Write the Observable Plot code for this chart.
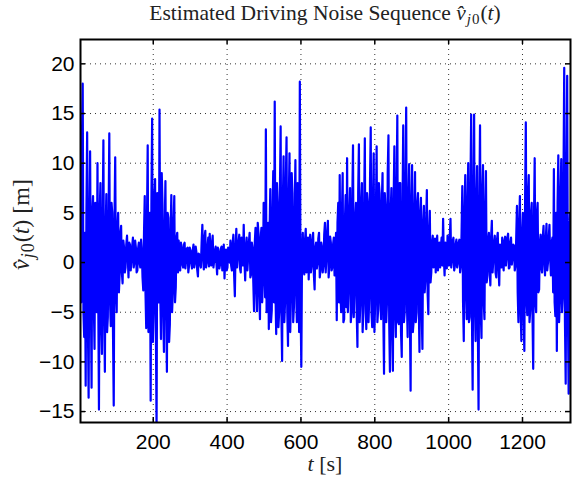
<!DOCTYPE html>
<html><head><meta charset="utf-8">
<script src="https://cdn.jsdelivr.net/npm/d3@7"></script>
<script src="https://cdn.jsdelivr.net/npm/@observablehq/plot@0.6"></script>
<style>body{margin:0;background:#fff}</style>
</head><body><div id="chart"></div>
<script>
// Estimated driving noise.
// noise: samples at t = 1, 5, 9, ... s ; noiseMid: samples at t = 3, 7, 11, ... s
const firstT = 1;
const sampleStep = 4;
const noise = [
22.3, -4, 18, -7.5, -12.4, 13.1, -13.6, 11.2, -12.6, 6.7, -8.7, 4.5, 10, -14.8, 8, -9.2, 12.3, -11, 6.9, -5.5,
13, -6.4, 5, -14.4, 10.6, -5, 5, -1.2, 3.7, -2.1,
1.5, -0.5, 2.7, -1.5, 1.8, 0.2, 2.5, 0, 1.5, -0.8, 2, -0.5, 1.2,
-2.8, 6.7, -6.6, 11.8, -4, -13.9, 14.5, -5, 8.4, -16.5, 5, 15.4, -7.7, 6, -9, 8.2, -11, 4.5, -6.2, 6.8, -3, 6.7, -2.5, 3,
2.2, -0.8, 1.5, -0.5, 2, 0.2, 1.5, -0.3, 1.2, -0.6, 1.8, 0, 1, -1.4, 0.8, -0.5, 3.8, -0.7, 3.2, 0,
2.5, 2.9, -0.3, 2.7, 0.2, 1.6, -1.2, 1.1, -0.2, 1.6, 0, -1.6, 1.3, -0.5, 1.2,
2.2, -0.8, 2.8, -3.4, 3.4, 0.5, 2.8, -1, 1.5, 3.8, -1.8, 2.5, 0.5, 3, -1.2, 1.5,
-4.9, 3.5, -4.9, 3, -5.7, 3.5, -2, 4.9, 13.4, -3, -6.7, 7.4, -4.8, 9.2, 16.2, -7.2, 6, -5, 13.7, -9.9,
10.7, -4, 12.6, -8.4, 11, -3.5, 7, -4.5, 10.3, -6, 5, 18.2, -10.5,
3, -1.2, 3.4, 0.5, -1.7, 2.8, -0.3, 3, -2.7, 2, 0, 3, -0.7, 1.5, -0.3, 4, 0.5, 4.2, -0.4, 2, -0.5, 2.5, -0.2,
-5.8, 6, 8.8, -5, 9, -5.7, 6.8, 10.5, -2.7, 7.5, -5, 11.8, -3, 6, -8.5, 11.9, -4, 8, -5, 12.5,
-6.7, 6, -3.5, 13.6, -6.5, 11, -4, 11.7, -4.8, 7, -5.7, 9, -11.2, 5.5, -4, 12.8, -11, 7.5, -10.9, 11.7,
-7.5, 14.8, -6.2, 8, -9.5, 13.8, -5, 15.6, -7.5, 9.9, -12.9, 9.8, -6, 9.1, -5, 7, -9, 6.5, -8.7, 5.7,
-1.8, 7.3, -5.2, 5.2,
-1, 2.7, 0.3, -1, 2.7, 0.3, -0.5, 2.5, 4.4, -1.3, 1.5, 2.7, -0.3, 4.4, 0.2, 2.5, -0.3, 2.3, 0, 2.3, -0.3,
7.7, -7.9, 8.8, -5.7, 10, -5.5, 14.9, -12.8, 14.9, -7.9, 9.7, -14.8, 13.8, -7.6, 9.8, -5.7, 9.2,
-1.3, 3, -2.3, 4.2, 0.3, 2.7, -1.5, 3, -2.3, 1, 2.5, -0.8, 2.6, 0.5, 2.9, -0.5, 2.5, 0.5, 1.7, -0.3,
5.7, -6, 6.7, -7.9, 5, -8.9, 14.1, -5.3, 8.8, -4.8, 6, -10.7, 10.5, -5, 6, -2.7,
2.8, -1, 3.7, -1.3, 3.9, 0, 3.8, -1.3, 2.5,
9.4, -5.4, -8.9, 10.8, -4, 10.4, -3.5, 19.6, -12.2, 18.8, -13.2, 5
];
const noiseMid = [
6, 9, -5, 3, 5, -6, 4, -3, 5, -4, 6, -5, -3, 5, -6, 4, -5, 3, -7, 4,
-4, 6, -7, 4, -3, 3.5, -3, 3, -1, 2.2,
-1, 1.8, 0.5, 2, -0.8, 1.6, -0.5, 2.2, -1, 1.4, 0, 2.3, -1.5,
3, -3, 4, -7, 5, 6, -8, 6.5, -6, 7, -4, -3, 9, -5, 3.5, -4, 5, -8, 3, -5, 4, -4, 2.5, -1,
-0.3, 2, -0.2, 1.8, -0.6, 1.4, -1, 1.5, 0, 1.2, -0.5, 1.6, -0.7, 0.9, -0.2, 2, 0.5, 2.5, -0.5, 1.5,
-0.4, 0.8, 1.9, -0.5, 1.2, 0, 1.5, -0.6, 1.4, -0.8, 1.8, 0.4, -0.8, 1.5, 0,
-0.3, 1.9, -1.2, 1.5, -0.5, 2, -0.6, 2.5, -0.3, 0.2, 1.5, -0.8, 2, -1.5, 2, -2,
2, -2.5, 4, -3, 2.5, -4, 6, -3.5, -5, 4, 3, -6, 5, -4, -3, 8, -6.5, 7, -5, 6,
-6, 8, -5, 6, -7, 9, -6, 5, -3, 8, -7, -4, 1,
-0.5, 2.2, -1, 2.5, 1.5, -1, 2.2, -1.2, 1.5, -0.6, 2.4, -1.5, 2, -1, 2.8, -1, 3, -1.5, 2.6, -0.8, 1.8, -1.3, 3,
4, -4, -3, 5, -6, 4, -4.5, -5, 5, -6, 6, -5.5, 4.5, -5, 7, -6, 6, -7, 5, -4,
7, -6, 8, -5, 6, -7, 5, -6, 8, -4, 6, -5, 7, -6, 9, -6, 5, -7, 6, -5,
7, -6, 8, -7, 5, -6, 7, -4, 6, -5, 6, -7, 5, -6, 6, -4, 5, -5, 4, -3,
4, -3, 3, -2,
2, -0.5, 2.4, 1.5, -0.8, 2, 1.6, -0.3, 0.5, 2, -0.6, 0.2, 2.5, -0.5, 2.2, -0.8, 1.8, -0.5, 2, -1, 3,
-4, 5, -3, 6, -6, 7, -5, 6, -4, 6, -6, 5, -5, 7, -4, 5, -2,
2.2, -0.8, 2.5, -1, 2, -1, 2.3, -0.5, 1.8, -0.5, 0, 2.2, -0.3, 2.5, -0.6, 2, -0.2, 1.8, -0.8, 2.5,
-3, 4, -5, 3, -5, 6, -4, 7, -6, 5, -5, 4, -4, 5, -3, 2,
-0.5, 2.6, 0, 2.3, -0.8, 2.4, 0.3, 2, -3,
-4, 5, 6, -6, 7, -5, 8, -6, 7, -5, 3
];
const xTicks = [200, 400, 600, 800, 1000, 1200];
const yTicks = [-15, -10, -5, 0, 5, 10, 15, 20];
const xDomain = [3, 1330];
const yDomain = [-16.1, 22.45];
const titleText = "Estimated Driving Noise Sequence ";

const series = noise.map((v, i) => ({t: firstT + sampleStep * i, v}))
  .concat(noiseMid.map((v, i) => ({t: firstT + sampleStep / 2 + sampleStep * i, v})))
  .sort((a, b) => a.t - b.t);

const W = 572, H = 477, mL = 80, mR = 2, mT = 39, mB = 55;
const fw = W - mL - mR, fh = H - mT - mB, tk = 5;
const fmt = d => (d < 0 ? "\u2212" + Math.abs(d) : String(d));

const plot = Plot.plot({
  width: W, height: H,
  marginLeft: mL, marginRight: mR, marginTop: mT, marginBottom: mB,
  style: {fontFamily: "'Liberation Sans', Arial, sans-serif", fontSize: "21px", background: "#fff", color: "#000"},
  x: {domain: xDomain},
  y: {domain: yDomain},
  marks: [
    Plot.gridX(xTicks, {stroke: "#333", strokeOpacity: 1, strokeWidth: 1, strokeDasharray: "1,4"}),
    Plot.gridY(yTicks, {stroke: "#333", strokeOpacity: 1, strokeWidth: 1, strokeDasharray: "1,4"}),
    Plot.line(series, {x: "t", y: "v", stroke: "#0000ff", strokeWidth: 2.2, clip: true}),
    Plot.frame({stroke: "#000", strokeWidth: 2}),
    Plot.tickX(xTicks, {x: d => d, insetTop: fh - tk, stroke: "#000", strokeWidth: 1.5}),
    Plot.tickX(xTicks, {x: d => d, insetBottom: fh - tk, stroke: "#000", strokeWidth: 1.5}),
    Plot.tickY(yTicks, {y: d => d, insetRight: fw - tk, stroke: "#000", strokeWidth: 1.5}),
    Plot.tickY(yTicks, {y: d => d, insetLeft: fw - tk, stroke: "#000", strokeWidth: 1.5}),
    Plot.axisX(xTicks, {tickSize: 0, tickPadding: 12, label: null, fontSize: 21, tickFormat: fmt}),
    Plot.axisY(yTicks, {tickSize: 0, tickPadding: 6, label: null, fontSize: 21, tickFormat: fmt})
  ]
});

const svg = d3.select(plot);
const serif = "'Liberation Serif', 'Times New Roman', serif";
function mathLabel(sel, subSize, subDy) {
  sel.append("tspan").attr("font-style", "italic").text("v\u0302");
  sel.append("tspan").attr("font-style", "italic").attr("font-size", subSize).attr("dy", subDy).attr("dx", 1).text("j");
  sel.append("tspan").attr("font-size", subSize).attr("dx", 1).text("0");
  sel.append("tspan").attr("dy", -subDy).attr("dx", 1).text("(");
  sel.append("tspan").attr("font-style", "italic").text("t");
  sel.append("tspan").text(")");
}
const title = svg.append("text")
  .attr("x", mL + fw / 2).attr("y", 20)
  .attr("text-anchor", "middle").attr("font-family", serif).attr("font-size", 21.5).attr("fill", "#222");
title.append("tspan").text(titleText);
mathLabel(title, 15, 4);

const xl = svg.append("text")
  .attr("x", mL + fw / 2).attr("y", 471)
  .attr("text-anchor", "middle").attr("font-family", serif).attr("font-size", 22).attr("fill", "#222");
xl.append("tspan").attr("font-style", "italic").text("t");
xl.append("tspan").text(" [s]");

const yl = svg.append("text")
  .attr("transform", `translate(29,${mT + fh / 2 - 6}) rotate(-90)`)
  .attr("text-anchor", "middle").attr("font-family", serif).attr("font-size", 24).attr("fill", "#222");
mathLabel(yl, 18, 5);
yl.append("tspan").text(" [m]");

document.getElementById("chart").appendChild(plot);
</script>
</body></html>
